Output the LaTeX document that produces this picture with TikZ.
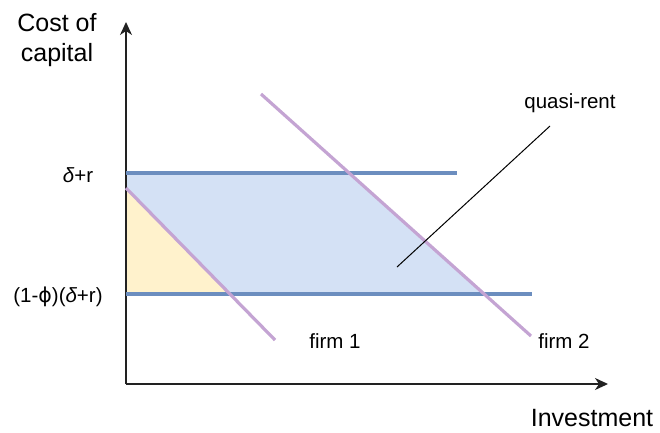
\documentclass[tikz,border=0pt]{standalone}
\usepackage{fontspec}
\setmainfont{Liberation Sans}
\newfontfamily\dvfont{DejaVu Sans}
\usetikzlibrary{arrows.meta}
\definecolor{bline}{HTML}{6C8EBF}
\definecolor{bfill}{HTML}{D4E1F5}
\definecolor{yfill}{HTML}{FFF2CC}
\definecolor{pline}{RGB}{196,164,211}
\definecolor{axc}{HTML}{222222}
\tikzset{
  axis/.style={draw=axc, line width=1.5pt, -{Stealth[length=13pt,width=12pt,inset=4pt]}},
  blueline/.style={draw=bline, line width=4pt},
  purpline/.style={draw=pline, line width=3.2pt},
  bigtxt/.style={font=\fontsize{25}{30}\selectfont, inner sep=0pt, align=center},
  smtxt/.style={font=\fontsize{20.5}{24}\selectfont, inner sep=0pt},
  callout/.style={draw=black, line width=1pt}
}
\begin{document}
\begin{tikzpicture}[x=1pt,y=-1pt]
\useasboundingbox (0,0) rectangle (660,432);
% key points
\coordinate (O) at (126,384);
\coordinate (ytip) at (126,22);
\coordinate (xtip) at (608,384);
\coordinate (t0) at (126,173);
\coordinate (t1) at (457,173);
\coordinate (b0) at (126,294);
\coordinate (b1) at (532,294);
\coordinate (f1a) at (126,188);
\coordinate (f1b) at (275,340);
\coordinate (f2a) at (261,94);
\coordinate (f2b) at (531,336);
\coordinate (ct) at (350,173);
\coordinate (cb) at (486,294);
\coordinate (cy) at (230,294);
\coordinate (qa) at (397,267);
\coordinate (qb) at (550,126);
% fills
\fill[bfill] (t0) -- (ct) -- (cb) -- (b0) -- cycle;
\fill[yfill] (f1a) -- (cy) -- (b0) -- cycle;
% axes
\draw[axis] (O) -- (ytip);
\draw[axis] (O) -- (xtip);
% horizontal lines
\draw[blueline] (t0) -- (t1);
\draw[blueline] (b0) -- (b1);
% demand lines
\draw[purpline] (f1a) -- (f1b);
\draw[purpline] (f2a) -- (f2b);
% callout
\draw[callout] (qa) -- (qb);
% labels
\node[bigtxt] (cost) at (57,40) {Cost of\\capital};
\node[bigtxt] (inv) at (592,418) {Investment};
\node[smtxt] (dr) at (78,175) {{\itshape δ}+r};
\node[smtxt] (phi) at (58,297) {(1-{\dvfont ɸ})({\itshape δ}+r)};
\node[smtxt] (firm1) at (335,341) {firm 1};
\node[smtxt] (firm2) at (564,341) {firm 2};
\node[smtxt] (quasi) at (570,103) {quasi-rent};
\end{tikzpicture}
\end{document}
